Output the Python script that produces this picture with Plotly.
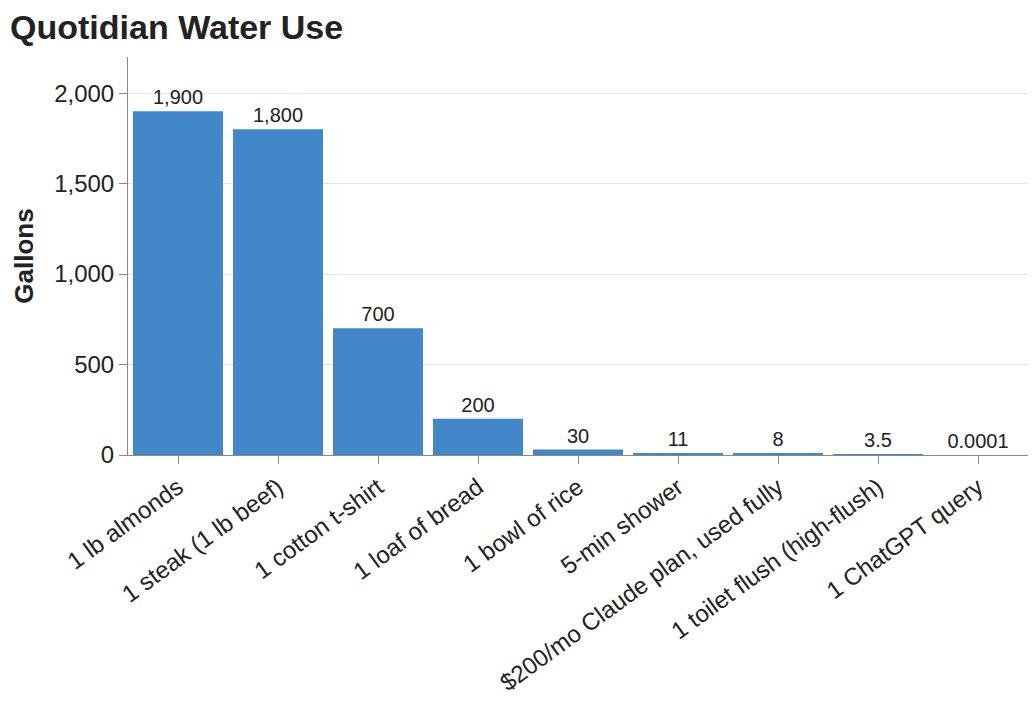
import plotly.graph_objects as go

items = ['1 lb almonds', '1 steak (1 lb beef)', '1 cotton t-shirt', '1 loaf of bread',
         '1 bowl of rice', '5-min shower', '$200/mo Claude plan, used fully',
         '1 toilet flush (high-flush)', '1 ChatGPT query']
gallons = [1900, 1800, 700, 200, 30, 11, 8, 3.5, 0.0001]
labels = ['1,900', '1,800', '700', '200', '30', '11', '8', '3.5', '0.0001']

font = 'Liberation Sans, Arial, Helvetica, sans-serif'

# the page sits 8px in from the top-left corner, so the figure is sized to match
fig = go.Figure(
    data=[go.Bar(x=items, y=gallons, text=labels, textposition='outside',
                 cliponaxis=False, marker_color='#4287c7', marker_line_width=0,
                 textfont=dict(size=20, color='#222'))]
)
fig.update_layout(
    width=1028, height=706,
    margin=dict(l=120, r=8, t=49, b=259, autoexpand=False),
    plot_bgcolor='white', paper_bgcolor='white',
    bargap=0.1,
    font=dict(family=font, color='#222'),
    title=dict(text='<b>Quotidian Water Use</b>', x=0.002, xanchor='left', y=0.973,
               yanchor='middle', font=dict(size=34, color='#222')),
    showlegend=False,
)
fig.update_xaxes(tickangle=-36, tickfont=dict(size=24), showline=True, linecolor='#888',
                 ticks='outside', ticklen=8, tickcolor='#888', showgrid=False, automargin=False)
fig.update_yaxes(range=[0, 2200], dtick=500, tickformat=',', tickfont=dict(size=24),
                 showline=True, linecolor='#888', ticks='outside', ticklen=8, tickcolor='#888',
                 gridcolor='#e3e3e8', zeroline=False, automargin=False,
                 title=dict(text='<b>Gallons</b>', font=dict(size=26), standoff=13))
fig.write_html("out.html")
